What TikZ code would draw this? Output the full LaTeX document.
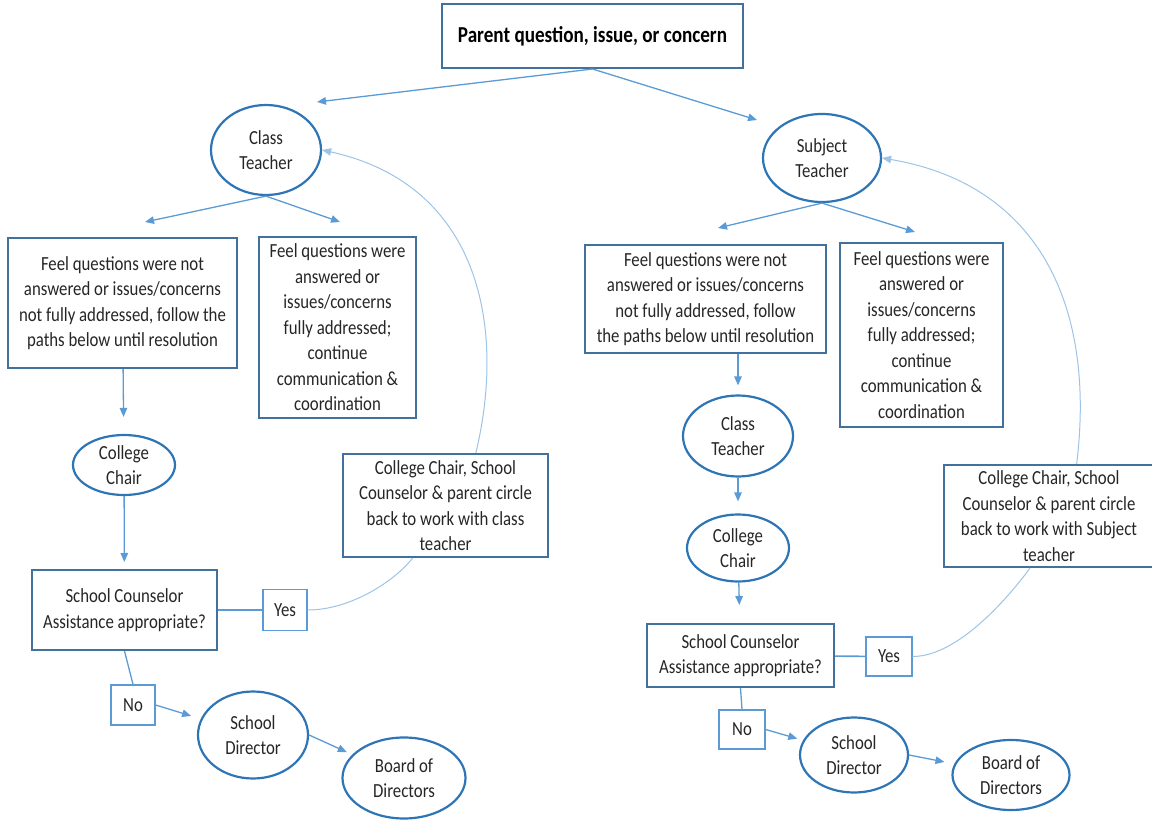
\documentclass[tikz,border=0pt]{standalone}
\usepackage{fontspec}
\setmainfont{Carlito}[FakeStretch=0.84]
\usepackage{tikz}
\usetikzlibrary{shapes.geometric, positioning, arrows.meta}
\definecolor{ovalblue}{HTML}{2E75B6}
\definecolor{boxblue}{HTML}{41719C}
\definecolor{lineblue}{HTML}{5B9BD5}
\definecolor{backblue}{HTML}{9DC3E6}
\definecolor{txt}{HTML}{262626}

\tikzset{
  dims/.style 2 args={minimum width=#1, minimum height=#2},
  box/.style={draw=boxblue, line width=2pt, inner sep=0pt, align=center, text=txt, font=\fontsize{20}{25.5}\selectfont},
  oval/.style={ellipse, draw=ovalblue, line width=2.2pt, inner sep=0pt, align=center, text=txt, font=\fontsize{20}{25.5}\selectfont},
  tag/.style={draw=lineblue, line width=1.3pt, inner sep=0pt, text=txt, font=\fontsize{20}{25.5}\selectfont},
  back/.style={draw=backblue, line width=1pt},
}

\begin{document}
\begin{tikzpicture}[x=1pt, y=-1pt, ->, >={Triangle[length=9pt,width=7.5pt]}, draw=lineblue, line width=1.3pt]
  \useasboundingbox (0,0) rectangle (1152,821);

  \node[box, dims={301}{64}, text=black, font=\bfseries\fontsize{22.8}{26}\selectfont] (top) at (592.5,36) {Parent question, issue, or concern};

  % class teacher side
  \node[oval, dims={110}{90}] (lct) at (266,150) {Class\\Teacher};
  \node[box, dims={229}{130}] (lq) at (122.5,303) {Feel questions were not\\answered or issues/concerns\\not fully addressed, follow the\\paths below until resolution};
  \node[box, dims={157}{181}] (la) at (337.5,327.5) {Feel questions were\\answered or\\issues/concerns\\fully addressed;\\continue\\communication \&\\coordination};
  \node[oval, dims={102}{60}] (lcc) at (124,465) {College\\Chair};
  \node[box, dims={185}{80}] (lsc) at (124.5,610) {School Counselor\\Assistance appropriate?};
  \node[tag, dims={44}{41}] (lyes) at (285,610) {Yes};
  \node[box, dims={205}{103}] (lback) at (445.5,505.5) {College Chair, School\\Counselor \& parent circle\\back to work with class\\teacher};
  \node[tag, dims={44}{40}] (lno) at (133,705) {No};
  \node[oval, dims={110}{87}] (lsd) at (253,735) {School\\Director};
  \node[oval, dims={123}{81}] (lbd) at (404,778) {Board of\\Directors};

  % subject teacher side
  \node[oval, dims={118}{88}] (rst) at (822,158) {Subject\\Teacher};
  \node[box, dims={241}{108}] (rq) at (705.5,299) {Feel questions were not\\answered or issues/concerns\\not fully addressed, follow\\the paths below until resolution};
  \node[box, dims={163}{184}] (ra) at (921.5,335) {Feel questions were\\answered or\\issues/concerns\\fully addressed;\\continue\\communication \&\\coordination};
  \node[oval, dims={110}{81}] (rct) at (738,436) {Class\\Teacher};
  \node[oval, dims={102}{67}] (rcc) at (738,548) {College\\Chair};
  \node[box, dims={187}{63}] (rsc) at (740.5,655.5) {School Counselor\\Assistance appropriate?};
  \node[tag, dims={46}{39}] (ryes) at (889,656.5) {Yes};
  \node[box, dims={210}{102}] (rback) at (1049,516) {College Chair, School\\Counselor \& parent circle\\back to work with Subject\\teacher};
  \node[tag, dims={46}{39}] (rno) at (742,729.5) {No};
  \node[oval, dims={108}{75}] (rsd) at (854,755) {School\\Director};
  \node[oval, dims={117}{70}] (rbd) at (1011,775) {Board of\\Directors};

  \coordinate (tl) at (317,102);
  \coordinate (tr) at (757,120);
  \coordinate (ll) at (145,222);
  \coordinate (lr) at (340,222);
  \coordinate (rl) at (718,228);
  \coordinate (rr) at (915,232);

  \path (top.south) edge (tl) edge (tr);
  \path (lct.south) edge (ll) edge (lr);
  \path (rst.south) edge (rl) edge (rr);

  \path (lq) edge[shorten >=17pt] (lcc);
  \path (lcc) edge[shorten >=7pt] (lsc);
  \path (lno.east) edge[shorten >=10pt] (lsd);
  \path (lsd.east) edge[shorten >=6pt] (lbd);

  \path (rct |- rq.south) edge[shorten >=9pt] (rct);
  \path (rct) edge[shorten >=12pt] (rcc);
  \path (rcc) edge[shorten >=18pt] (rsc);
  \path (rno.east) edge[shorten >=6pt] (rsd);
  \path (rsd.east) edge[shorten >=10pt] (rbd);

  \draw[-, line width=1.6pt] (lsc) -- (lyes);
  \draw[-] (lsc.south) -- (lno.north);
  \draw[-, line width=1.6pt] (rsc) -- (ryes);
  \draw[-] (rsc.south) -- (rno.north);

  % circle back
  \draw[-, back] (lyes.east) .. controls +(43,0) and +(-18,23) .. (lback.238);
  \draw[back] (lback.60) .. controls +(30,-124) and +(159,35) .. (lct.east);
  \draw[-, back] (ryes.east) .. controls +(45,0) and +(-22,30) .. (rback.250);
  \draw[back] (rback.62) .. controls +(19,-155) and +(159,27) .. (rst.east);
\end{tikzpicture}
\end{document}
